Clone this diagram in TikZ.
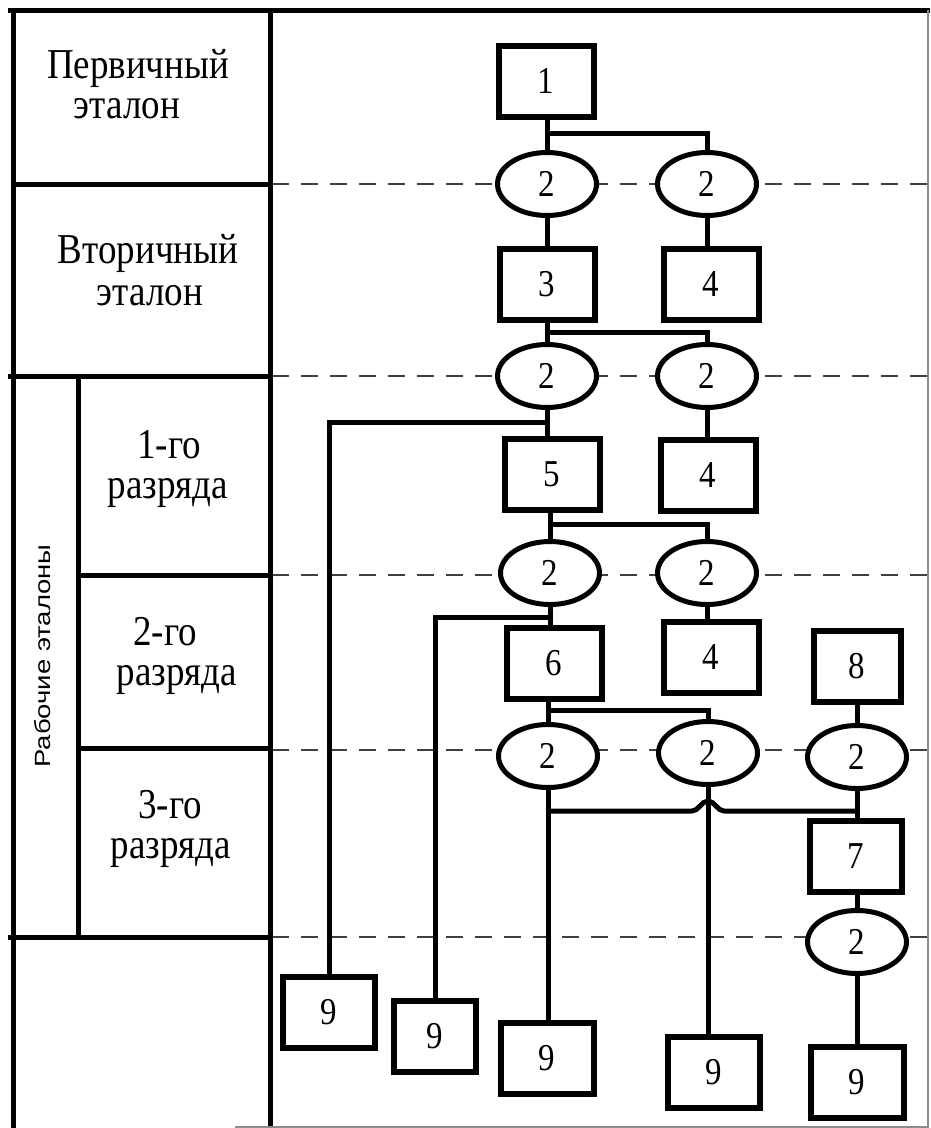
\documentclass[tikz,border=0pt]{standalone}
\usepackage{graphicx}
\usepackage{fontspec}
\setmainfont{Liberation Serif}
\newfontfamily\sansf{Liberation Sans}
\usetikzlibrary{shapes.geometric}
\newcommand\tallt[1]{\scalebox{1}[1.15]{#1}}
\begin{document}
\begin{tikzpicture}[x=1pt,y=-1pt,
  box/.style={draw, line width=6pt, minimum width=95pt, minimum height=71pt, inner sep=0pt, fill=white, font=\fontsize{33}{33}\selectfont},
  ell/.style={draw, ellipse, line width=5pt, minimum width=99pt, minimum height=63pt, inner sep=0pt, fill=white, font=\fontsize{33}{33}\selectfont},
  conn/.style={line width=5pt},
  tbl/.style={line width=5pt},
  lvl/.style={draw=black!75, line width=2pt, dash pattern=on 17pt off 12pt},
  lab/.style={anchor=base, inner sep=0pt, font=\fontsize{37}{40}\selectfont},
]
\useasboundingbox (0,0) rectangle (930,1128);
\fill[white] (0,0) rectangle (930,1128);

% level lines (dashed)
\draw[lvl] (272,184) -- (930,184);
\draw[lvl] (272,376) -- (930,376);
\draw[lvl] (272,575) -- (930,575);
\draw[lvl] (272,750) -- (930,750);
\draw[lvl] (272,937) -- (930,937);

% table
\draw[tbl] (8,10) -- (930,10);
\draw[tbl] (13,8) -- (13,1128);
\draw[tbl] (270,8) -- (270,1128);
\draw[tbl] (11,184) -- (272,184);
\draw[tbl] (8,376) -- (272,376);
\draw[tbl] (78,376) -- (78,937);
\draw[tbl] (78,575) -- (268,575);
\draw[tbl] (78,748) -- (272,748);
\draw[tbl] (8,937) -- (272,937);
\draw[black!45, line width=1.2pt] (235,1127) -- (928,1127) -- (928,10);

% table labels
\node[lab] (p1) at (138,78) {\tallt{Первичный}};
\node[lab] (p2) at (127,118) {\tallt{эталон}};
\node[lab] (v1) at (148,263) {\tallt{Вторичный}};
\node[lab] (v2) at (150,305) {\tallt{эталон}};
\node[lab] (r1a) at (169,458) {\tallt{1-го}};
\node[lab] (r1b) at (168,498) {\tallt{разряда}};
\node[lab] (r2a) at (165,645) {\tallt{2-го}};
\node[lab] (r2b) at (177,685) {\tallt{разряда}};
\node[lab] (r3a) at (170,818) {\tallt{3-го}};
\node[lab] (r3b) at (171,858) {\tallt{разряда}};
\node[rotate=90, inner sep=0pt, font=\sansf\fontsize{22}{22}\selectfont] (rab) at (43,656) {\scalebox{1.25}[1]{Рабочие эталоны}};

% nodes
\node[box] (b1) at (546,81) {\tallt{1}};
\node[ell] (e1a) at (547,184) {\tallt{2}};
\node[ell] (e1b) at (707,184) {\tallt{2}};
\node[box] (b3) at (547,284) {\tallt{3}};
\node[box] (b4a) at (711,284) {\tallt{4}};
\node[ell] (e2a) at (547,376) {\tallt{2}};
\node[ell] (e2b) at (707,376) {\tallt{2}};
\node[box] (b5) at (552,474) {\tallt{5}};
\node[box] (b4b) at (708,475) {\tallt{4}};
\node[ell] (e3a) at (550,573) {\tallt{2}};
\node[ell] (e3b) at (707,573) {\tallt{2}};
\node[box] (b6) at (554,663) {\tallt{6}};
\node[box] (b4c) at (711,657) {\tallt{4}};
\node[box, minimum width=87pt] (b8) at (857,666) {\tallt{8}};
\node[ell] (e4a) at (548,756) {\tallt{2}};
\node[ell] (e4b) at (708,753) {\tallt{2}};
\node[ell] (e4c) at (857,757) {\tallt{2}};
\node[box, minimum width=92pt] (b7) at (856,856) {\tallt{7}};
\node[ell] (e5) at (857,942) {\tallt{2}};
\node[box, minimum width=92pt] (b9a) at (329,1012) {\tallt{9}};
\node[box, minimum width=82pt] (b9b) at (435,1036) {\tallt{9}};
\node[box, minimum width=93pt] (b9c) at (547,1058) {\tallt{9}};
\node[box, minimum width=92pt] (b9d) at (714,1072) {\tallt{9}};
\node[box, minimum width=93pt] (b9e) at (857,1082) {\tallt{9}};

% connectors
\draw[conn] (e1a.north) -- (e1a.north |- b1.south);
\draw[conn] (e1a.north |- 0,133) -| (e1b.north);
\draw[conn] (e1a.south) -- (e1a.south |- b3.north);
\draw[conn] (e1b.south) -- (e1b.south |- b4a.north);

\draw[conn] (e2a.north) -- (e2a.north |- b3.south);
\draw[conn] (e2a.north |- 0,332) -| (e2b.north);
\draw[conn] (e2a.south) -- (e2a.south |- b5.north);
\draw[conn] (e2b.south) -- (e2b.south |- b4b.north);
\draw[conn] (e2a.south |- 0,422) -| (b9a.north);

\draw[conn] (e3a.north) -- (e3a.north |- b5.south);
\draw[conn] (e3a.north |- 0,524) -| (e3b.north);
\draw[conn] (e3a.south) -- (e3a.south |- b6.north);
\draw[conn] (e3b.south) -- (e3b.south |- b4c.north);
\draw[conn] (e3a.south |- 0,617) -| (b9b.north);

\draw[conn] (e4a.north) -- (e4a.north |- b6.south);
\draw[conn] (e4a.north |- 0,710) -| (e4b.north);
\draw[conn] (e4c.north) -- (e4c.north |- b8.south);
\draw[conn] (e4c.south) -- (e4c.south |- b7.north);
\draw[conn] (e4a.south) -- (e4a.south |- b9c.north);
\draw[conn] (e4b.south) -- (e4b.south |- b9d.north);
\coordinate (hop) at (e4b.south |- 0,811);
\draw[conn] (e4a.south |- hop) -- ([xshift=-16pt]hop)
  .. controls ([xshift=-9pt]hop) and ([xshift=-7pt,yshift=10pt]hop) .. ([yshift=10pt]hop)
  .. controls ([xshift=7pt,yshift=10pt]hop) and ([xshift=9pt]hop) .. ([xshift=16pt]hop)
  -- (hop -| e4c.south);

\draw[conn] (e5.north) -- (e5.north |- b7.south);
\draw[conn] (e5.south) -- (e5.south |- b9e.north);
\end{tikzpicture}
\end{document}
